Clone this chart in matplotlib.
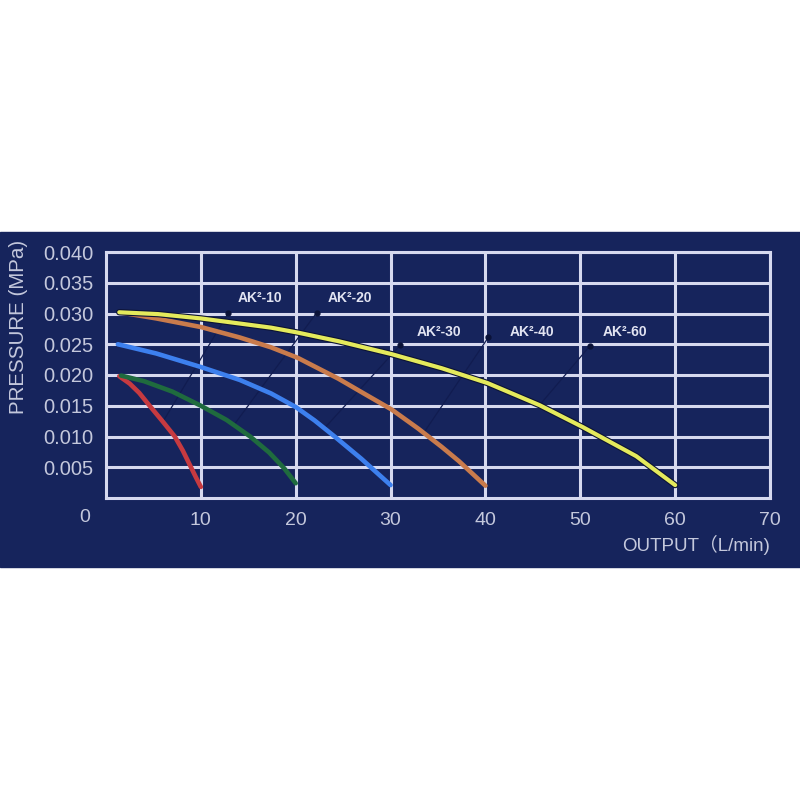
import matplotlib
matplotlib.use("Agg")
import matplotlib.pyplot as plt
import matplotlib.patheffects as pe
from matplotlib.patches import Rectangle

# pump curves: output (L/min) vs pressure (MPa)
red_x = [1.4, 2.5, 3.5, 4.6, 6.0, 7.25, 8.1, 8.8, 9.5, 10.0]
red_y = [0.0198, 0.0186, 0.0171, 0.0150, 0.0124, 0.0100, 0.0077, 0.0055, 0.0033, 0.0018]

green_x = [1.6, 4.0, 7.0, 10.0, 12.7, 15.2, 17.2, 18.8, 20.0]
green_y = [0.0199, 0.0190, 0.0173, 0.0150, 0.0127, 0.0100, 0.0074, 0.0048, 0.0024]

blue_x = [1.25, 5.3, 10.0, 14.1, 17.4, 20.0, 22.0, 24.1, 26.9, 30.0]
blue_y = [0.0250, 0.0235, 0.0213, 0.0192, 0.0170, 0.0148, 0.0126, 0.0100, 0.0064, 0.0021]

orange_x = [1.4, 5.3, 10.0, 14.1, 17.4, 20.2, 24.5, 27.4, 30.1, 32.9, 35.4, 37.2, 40.0]
orange_y = [0.0302, 0.0292, 0.0278, 0.0261, 0.0245, 0.0228, 0.0194, 0.0168, 0.0144,
            0.0113, 0.0083, 0.0060, 0.0020]

yellow_x = [1.4, 5.5, 10.0, 17.4, 20.2, 24.5, 30.1, 35.4, 40.2, 45.7, 50.3, 55.9, 60.0]
yellow_y = [0.0302, 0.0299, 0.0292, 0.0277, 0.0269, 0.0255, 0.0234, 0.0211, 0.0187,
            0.0151, 0.0115, 0.0068, 0.0021]

x_ticks = [10, 20, 30, 40, 50, 60, 70]
y_ticks = [0.005, 0.010, 0.015, 0.020, 0.025, 0.030, 0.035, 0.040]

model_names = ["AK²-10", "AK²-20", "AK²-30", "AK²-40", "AK²-60"]
label_xy    = [(13.9, 0.0325), (23.4, 0.0325), (32.8, 0.0270), (42.6, 0.0270), (52.4, 0.0270)]
marker_xy   = [(12.9, 0.0301), (22.2, 0.0301), (31.0, 0.0248), (40.3, 0.0261), (51.0, 0.0247)]
leader_end  = [(6.0, 0.0124), (13.5, 0.0119), (23.0, 0.0113), (33.5, 0.0106), (45.7, 0.0151)]

NAVY  = "#16245c"
GRID  = "#d6d9ef"
TEXT  = "#c4c8dc"
FONT  = ["Liberation Sans", "Noto Sans CJK SC", "DejaVu Sans"]

plt.rcParams["font.family"] = FONT

fig = plt.figure(figsize=(8, 8), dpi=100, facecolor="white")
fig.add_artist(Rectangle((0, 1 - 567 / 800), 1, 335 / 800,
                         transform=fig.transFigure, color=NAVY, zorder=0))

ax = fig.add_axes([106 / 800, 1 - 498 / 800, 664 / 800, 246 / 800])
ax.set_facecolor(NAVY)
ax.set_xlim(0, 70)
ax.set_ylim(0, 0.040)

ax.set_xticks(x_ticks)
ax.set_xticklabels([str(v) for v in x_ticks])
ax.set_yticks(y_ticks)
ax.set_yticklabels([f"{v:.3f}" for v in y_ticks])
ax.tick_params(length=0, labelcolor=TEXT)
ax.tick_params(axis="x", labelsize=14, pad=10)
ax.tick_params(axis="y", labelsize=14.5, pad=9)
ax.grid(True, color=GRID, linewidth=2.2, zorder=1)
ax.set_axisbelow(True)
for sp in ax.spines.values():
    sp.set_color(GRID)
    sp.set_linewidth(2.2)

# faint leader lines from labels to curves
for (mx, my), (ex, ey) in zip(marker_xy, leader_end):
    ax.plot([mx, ex], [my, ey], color="#111c50", linewidth=0.9, zorder=2)
    ax.plot(mx, my, "o", color="#0a1238", markersize=3.5, zorder=3)

style = dict(linewidth=3.3, zorder=4, solid_capstyle="round", solid_joinstyle="round")
ax.plot(red_x, red_y, color="#c63a40", **style)
ax.plot(green_x, green_y, color="#1f6b3e", **style)
ax.plot(blue_x, blue_y, color="#3d80ee", **style)
ax.plot(orange_x, orange_y, color="#c97b4c", **style)
ax.plot(yellow_x, yellow_y, color="#e4ea5c", linewidth=3.0, zorder=5,
        solid_capstyle="round", solid_joinstyle="round",
        path_effects=[pe.Stroke(linewidth=4.6, foreground="#0c1335"), pe.Normal()])

for name, (lx, ly) in zip(model_names, label_xy):
    ax.text(lx, ly, name, color="#e2e4f2", fontsize=10, fontweight="bold",
            ha="left", va="center", zorder=6)

fig.text(85 / 800, 1 - 517 / 800, "0", color=TEXT, fontsize=14,
         ha="center", va="center")
fig.text(18.5 / 800, 1 - 327 / 800, "PRESSURE (MPa)", color=TEXT, fontsize=14.8,
         rotation=90, ha="center", va="center")
fig.text(770 / 800, 1 - 545 / 800, "OUTPUT（L/min)", color=TEXT, fontsize=13.5,
         ha="right", va="center", family=FONT)

fig.savefig("out.png", dpi=100, facecolor="white")
